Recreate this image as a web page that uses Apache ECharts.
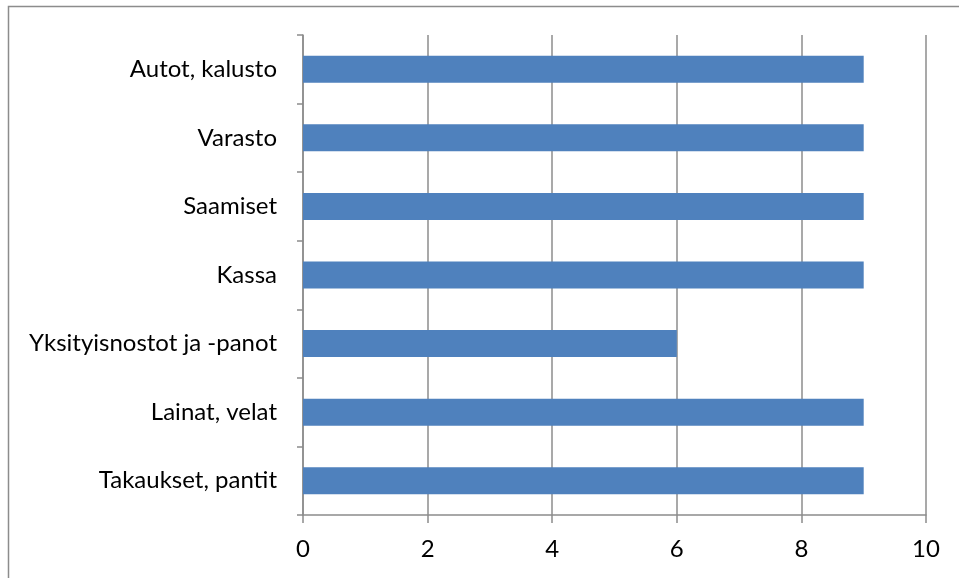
<!DOCTYPE html>
<html>
<head>
<meta charset="utf-8">
<script src="https://cdn.jsdelivr.net/npm/echarts@6/dist/echarts.min.js"></script>
<style>
  html, body { margin: 0; padding: 0; background: #fff; }
  #chart { width: 959px; height: 578px; }
</style>
</head>
<body>
<div id="chart"></div>
<script>
// top to bottom, as in the picture
const categories = [
  "Autot, kalusto",
  "Varasto",
  "Saamiset",
  "Kassa",
  "Yksityisnostot ja -panot",
  "Lainat, velat",
  "Takaukset, pantit"
];
const values = [9, 9, 9, 9, 6, 9, 9];
const xMin = 0;
const xMax = 10;
const xStep = 2;

const gray = "#8c8c8c";
const chart = echarts.init(document.getElementById("chart"));

chart.setOption({
  animation: false,
  textStyle: { fontFamily: "Lato" },
  graphic: [
    {
      type: "rect",
      shape: { x: 8.5, y: 6.5, width: 960, height: 580 },
      style: { fill: "none", stroke: gray, lineWidth: 1.5 }
    }
  ],
  grid: { left: 303, right: 33, top: 35, bottom: 63, containLabel: false },
  xAxis: {
    type: "value",
    min: xMin,
    max: xMax,
    interval: xStep,
    axisLine: { show: true, lineStyle: { color: gray, width: 1.5 } },
    axisTick: { show: true, length: 8, lineStyle: { color: gray, width: 1.5 } },
    axisLabel: { color: "#000", fontSize: 24, margin: 22 },
    splitLine: { show: true, lineStyle: { color: gray, width: 1.5 } }
  },
  yAxis: {
    type: "category",
    data: categories,
    inverse: true,
    axisLine: { show: true, lineStyle: { color: gray, width: 1.5 } },
    axisTick: { show: true, length: 6, inside: false, lineStyle: { color: gray, width: 1.5 } },
    axisLabel: { color: "#000", fontSize: 24, margin: 26 },
    splitLine: { show: false }
  },
  series: [
    {
      type: "bar",
      data: values,
      barWidth: 27,
      itemStyle: { color: "#4f81bd" }
    }
  ]
});
</script>
</body>
</html>
